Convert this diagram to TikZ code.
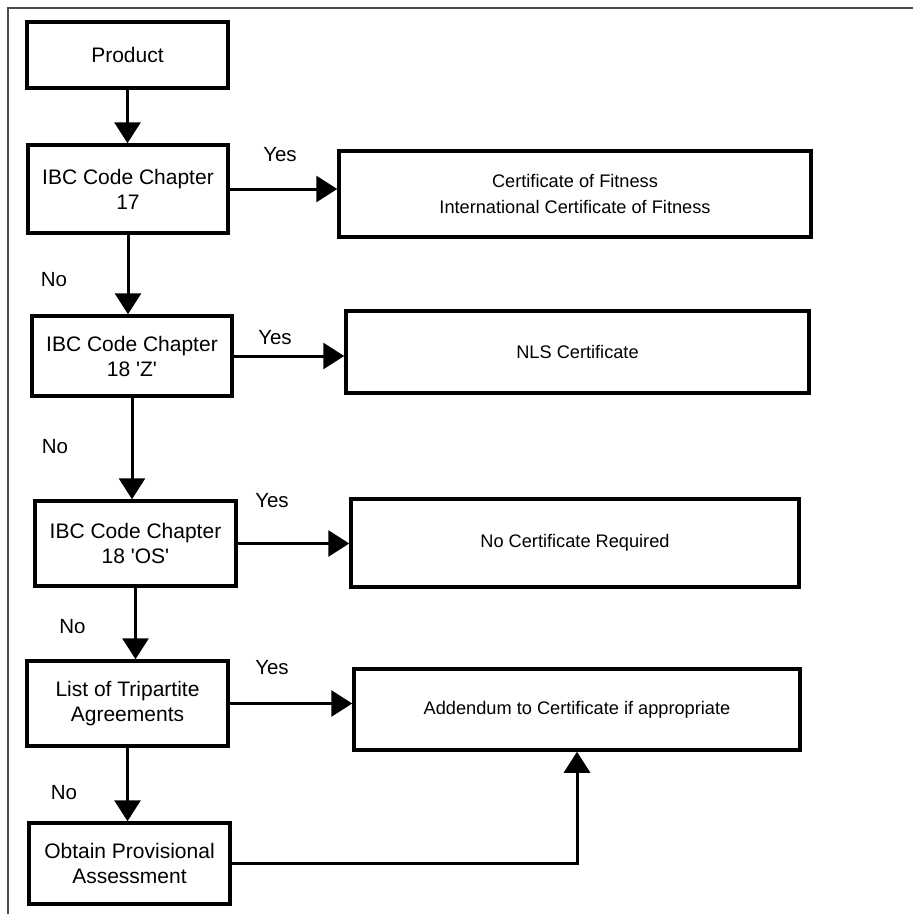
\documentclass[tikz,border=0pt]{standalone}
\usepackage{fontspec}
\setmainfont{Liberation Sans}
\usetikzlibrary{arrows.meta}
\begin{document}
\begin{tikzpicture}[x=1pt,y=-1pt,
  lbox/.style={draw,line width=3.5pt,rectangle,minimum width=#1,align=center,inner sep=0pt,font=\fontsize{21}{25}\selectfont},
  rbox/.style={draw,line width=3.5pt,rectangle,minimum width=#1,align=center,inner sep=0pt,font=\fontsize{18.2}{26}\selectfont},
  lbl/.style={inner sep=0pt,font=\fontsize{20.5}{24}\selectfont},
  arr/.style={line width=3pt,-{Triangle[width=26pt,length=21pt]}},
  conn/.style={line width=3pt}]
\useasboundingbox (0,0) rectangle (913,914);
\draw[line width=2pt,black!70] (8,914) -- (8,8) -- (913,8);
% left column
\node[lbox=201pt,minimum height=66pt] (prod) at (127.5,55) {Product};
\node[lbox=200pt,minimum height=88pt] (i17) at (128,189) {IBC Code Chapter\\17};
\node[lbox=200pt,minimum height=80pt] (i18z) at (132,356) {IBC Code Chapter\\18 \textquotesingle Z\textquotesingle};
\node[lbox=201pt,minimum height=85pt] (i18os) at (135.5,543.5) {IBC Code Chapter\\18 \textquotesingle OS\textquotesingle};
\node[lbox=201pt,minimum height=85pt] (trip) at (127.5,703.5) {List of Tripartite\\Agreements};
\node[lbox=201pt,minimum height=81pt] (obt) at (129.5,863.5) {Obtain Provisional\\Assessment};
% right column
\node[rbox=472pt,minimum height=86pt] (cert) at (575,194) {Certificate of Fitness\\International Certificate of Fitness};
\node[rbox=463pt,minimum height=82pt] (nls) at (577.5,352) {NLS Certificate};
\node[rbox=448pt,minimum height=88pt] (nocert) at (575,543) {No Certificate Required};
\node[rbox=446pt,minimum height=81pt] (add) at (577,709.5) {Addendum to Certificate if appropriate};
% vertical arrows
\draw[arr] (prod.south) -- (prod.south |- i17.north);
\draw[arr] (i17.south) -- (i17.south |- i18z.north);
\draw[arr] (i18z.south) -- (i18z.south |- i18os.north);
\draw[arr] (i18os.south) -- (i18os.south |- trip.north);
\draw[arr] (trip.south) -- (trip.south |- obt.north);
% horizontal arrows
\draw[arr] (i17.east) -- (i17.east -| cert.west);
\draw[arr] (i18z.east) -- (i18z.east -| nls.west);
\draw[arr] (i18os.east) -- (i18os.east -| nocert.west);
\draw[arr] (trip.east) -- (trip.east -| add.west);
\draw[arr] (obt.east) -| (add.south);
% labels
\node[lbl] (y1) at (280,155) {Yes};
\node[lbl] (y2) at (275,338) {Yes};
\node[lbl] (y3) at (272,501) {Yes};
\node[lbl] (y4) at (272,668) {Yes};
\node[lbl] (n1) at (54,280) {No};
\node[lbl] (n2) at (55,447) {No};
\node[lbl] (n3) at (72.5,627) {No};
\node[lbl] (n4) at (64,793) {No};
\end{tikzpicture}
\end{document}
